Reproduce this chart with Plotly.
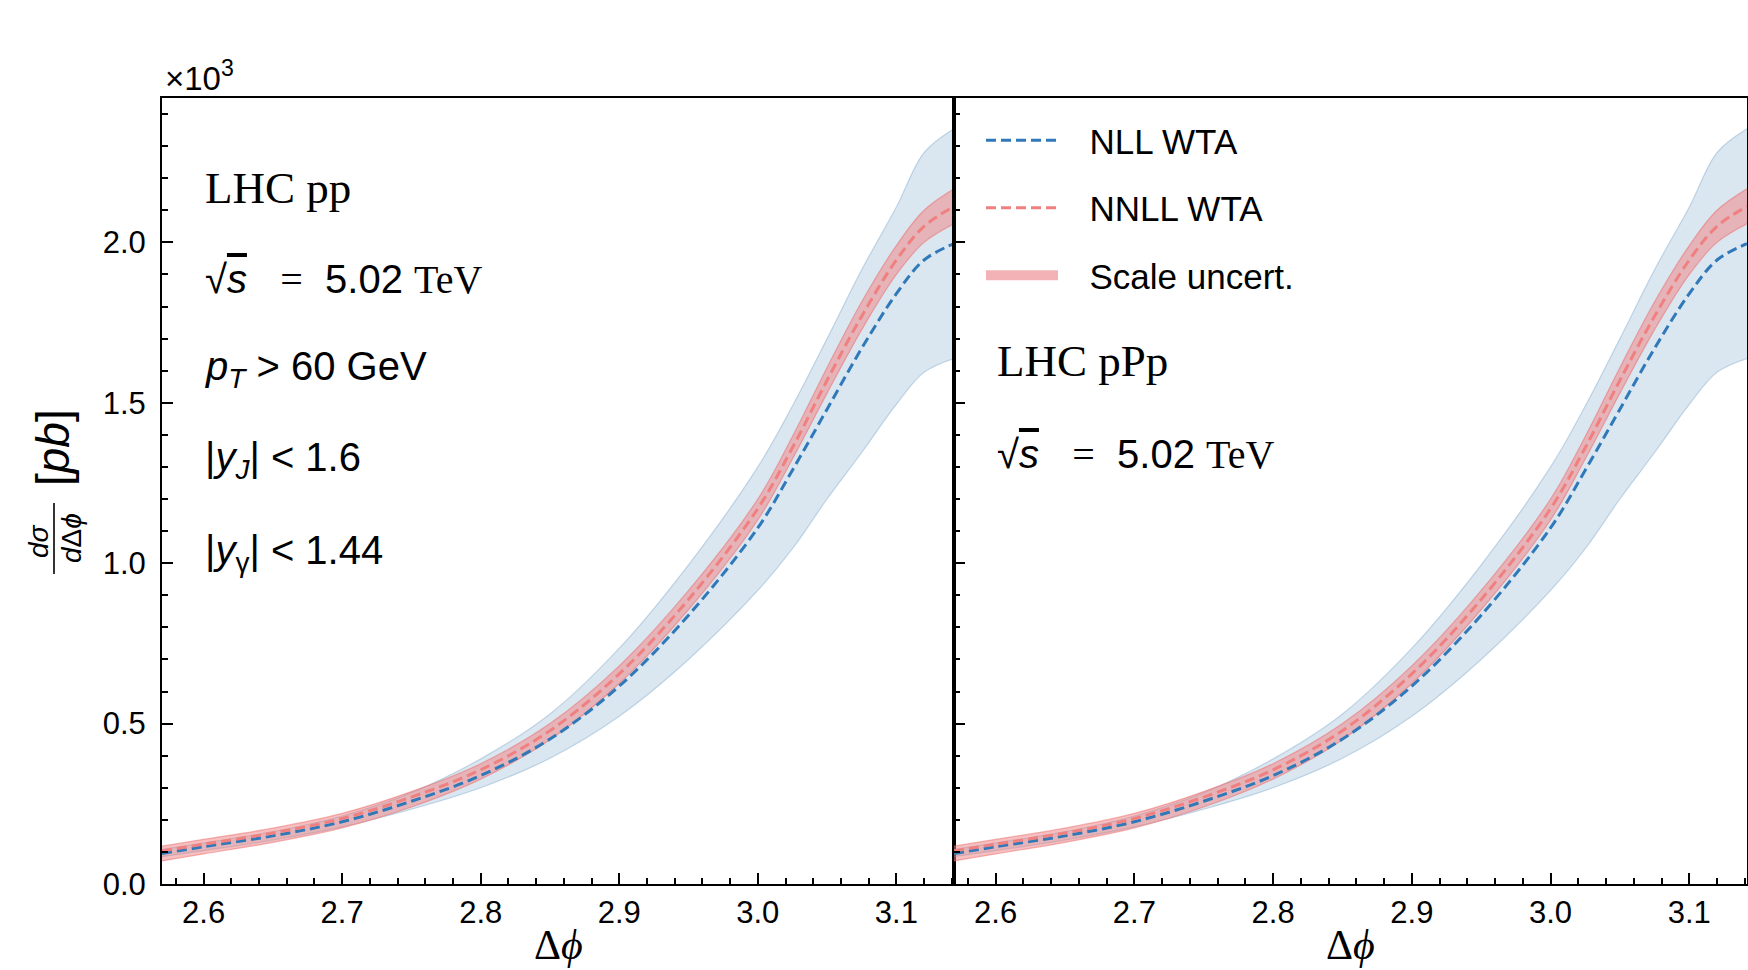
import math
import plotly.graph_objects as go

W, H = 1748, 970

# ---------------- data (units of 10^3 pb) ----------------
DPHI = [2.57, 2.60, 2.65, 2.70, 2.75, 2.80, 2.85, 2.90, 2.95, 3.00,
        3.025, 3.05, 3.075, 3.10, 3.12, 3.1416]

# LHC pp panel
PP_NLL = [0.095, 0.116, 0.150, 0.194, 0.258, 0.338, 0.452, 0.617, 0.838, 1.110,
          1.290, 1.480, 1.670, 1.840, 1.945, 1.996]
PP_NLL_LO = [0.085, 0.104, 0.137, 0.178, 0.233, 0.300, 0.392, 0.523, 0.700, 0.915,
             1.045, 1.200, 1.345, 1.495, 1.595, 1.638]
PP_NLL_HI = [0.108, 0.128, 0.163, 0.212, 0.285, 0.390, 0.530, 0.735, 0.995, 1.300,
             1.490, 1.700, 1.915, 2.110, 2.280, 2.354]
PP_NNLL = [0.103, 0.124, 0.159, 0.204, 0.271, 0.356, 0.478, 0.655, 0.887, 1.170,
           1.360, 1.570, 1.770, 1.945, 2.050, 2.112]
PP_NNLL_LO = [0.072, 0.094, 0.130, 0.175, 0.240, 0.327, 0.450, 0.625, 0.855, 1.135,
              1.325, 1.530, 1.728, 1.900, 2.000, 2.058]
PP_NNLL_HI = [0.118, 0.139, 0.174, 0.220, 0.288, 0.375, 0.500, 0.680, 0.915, 1.200,
              1.395, 1.610, 1.815, 1.990, 2.100, 2.167]

# LHC pPp panel
PPB_NLL = [0.095, 0.116, 0.150, 0.194, 0.258, 0.338, 0.452, 0.617, 0.838, 1.110,
           1.290, 1.480, 1.670, 1.840, 1.945, 1.996]
PPB_NLL_LO = [0.085, 0.104, 0.137, 0.178, 0.233, 0.300, 0.392, 0.523, 0.700, 0.915,
              1.045, 1.200, 1.345, 1.495, 1.595, 1.638]
PPB_NLL_HI = [0.108, 0.128, 0.163, 0.212, 0.285, 0.390, 0.530, 0.735, 0.995, 1.300,
              1.490, 1.700, 1.915, 2.110, 2.280, 2.354]
PPB_NNLL = [0.103, 0.124, 0.159, 0.204, 0.271, 0.356, 0.478, 0.655, 0.887, 1.170,
            1.360, 1.570, 1.770, 1.945, 2.050, 2.112]
PPB_NNLL_LO = [0.072, 0.094, 0.130, 0.175, 0.240, 0.327, 0.450, 0.625, 0.855, 1.135,
               1.325, 1.530, 1.728, 1.900, 2.000, 2.058]
PPB_NNLL_HI = [0.118, 0.139, 0.174, 0.220, 0.288, 0.375, 0.500, 0.680, 0.915, 1.200,
               1.395, 1.610, 1.815, 1.990, 2.100, 2.167]

X_TICKS = [2.6, 2.7, 2.8, 2.9, 3.0, 3.1]
X_TICK_LABELS = ["2.6", "2.7", "2.8", "2.9", "3.0", "3.1"]
Y_TICKS = [0.0, 0.5, 1.0, 1.5, 2.0]
Y_TICK_LABELS = ["0.0", "0.5", "1.0", "1.5", "2.0"]
X_RANGE = [2.57, math.pi]
Y_RANGE = [0.0, 2.45]

SERIES_NAMES = ["NLL WTA", "NNLL WTA", "Scale uncert."]

# ---------------- style ----------------
SANS = "Liberation Sans"
SERIF = "Liberation Serif"
BLUE = "#3079b9"
RED = "#f08080"
BAND_BLUE = "rgba(70,130,180,0.2)"
BAND_BLUE_EDGE = "rgba(70,130,180,0.28)"
BAND_RED = "rgba(240,128,128,0.5)"
BAND_RED_EDGE = "rgba(236,112,112,0.55)"
DASH = "10px,5px"
NB = "\u00a0"
LEG_PAD = NB * 2 + "\u2009"


def fx(p):
    return p / W


def fy(p):
    return 1 - p / H


X0, XM, X1 = 162, 954, 1747
YT, YB = 98, 884

fig = go.Figure()

panels = [
    ("x", "y", PP_NLL, PP_NLL_LO, PP_NLL_HI, PP_NNLL, PP_NNLL_LO, PP_NNLL_HI, False),
    ("x2", "y2", PPB_NLL, PPB_NLL_LO, PPB_NLL_HI, PPB_NNLL, PPB_NNLL_LO, PPB_NNLL_HI, True),
]

for xa, ya, nll, nll_lo, nll_hi, nnll, nnll_lo, nnll_hi, show in panels:
    fig.add_trace(go.Scatter(x=DPHI, y=nll_lo, xaxis=xa, yaxis=ya, mode="lines",
                             line=dict(color=BAND_BLUE_EDGE, width=1.2, shape="spline"),
                             showlegend=False, hoverinfo="skip"))
    fig.add_trace(go.Scatter(x=DPHI, y=nll_hi, xaxis=xa, yaxis=ya, mode="lines",
                             fill="tonexty", fillcolor=BAND_BLUE,
                             line=dict(color=BAND_BLUE_EDGE, width=1.2, shape="spline"),
                             showlegend=False, hoverinfo="skip"))
    fig.add_trace(go.Scatter(x=DPHI, y=nnll_lo, xaxis=xa, yaxis=ya, mode="lines",
                             line=dict(color=BAND_RED_EDGE, width=1.2, shape="spline"),
                             showlegend=False, hoverinfo="skip", legendgroup="g3"))
    fig.add_trace(go.Scatter(x=DPHI, y=nnll_hi, xaxis=xa, yaxis=ya, mode="lines",
                             fill="tonexty", fillcolor=BAND_RED,
                             line=dict(color=BAND_RED_EDGE, width=1.2, shape="spline"),
                             name=SERIES_NAMES[2], showlegend=False, legendgroup="g3"))
    fig.add_trace(go.Scatter(x=DPHI, y=nll, xaxis=xa, yaxis=ya, mode="lines",
                             line=dict(color=BLUE, width=3, dash=DASH, shape="spline"),
                             name=LEG_PAD + SERIES_NAMES[0], showlegend=show, legendrank=1,
                             legendgroup="g1"))
    fig.add_trace(go.Scatter(x=DPHI, y=nnll, xaxis=xa, yaxis=ya, mode="lines",
                             line=dict(color=RED, width=3, dash=DASH, shape="spline"),
                             name=LEG_PAD + SERIES_NAMES[1], showlegend=show, legendrank=2,
                             legendgroup="g2"))

# legend swatch for the scale-uncertainty band (no data points of its own)
fig.add_trace(go.Scatter(x=[None], y=[None], xaxis="x2", yaxis="y2", mode="lines",
                         line=dict(color="rgba(243,178,182,1)", width=26),
                         name=LEG_PAD + SERIES_NAMES[2], showlegend=True, legendrank=3,
                         legendgroup="g3", hoverinfo="skip"))


def xaxis_cfg(domain, anchor):
    return dict(
        domain=domain, anchor=anchor, range=X_RANGE, tickmode="array", tickvals=X_TICKS,
        ticktext=X_TICK_LABELS, ticks="inside", ticklen=11, tickwidth=2,
        tickcolor="black", showline=True, linecolor="black", linewidth=2,
        mirror=True, showgrid=False, zeroline=False, automargin=False,
        minor=dict(tickmode="linear", tick0=2.5, dtick=0.02, ticks="inside",
                   ticklen=6, tickwidth=1.5, tickcolor="black", showgrid=False),
        tickfont=dict(family=SANS, size=31, color="black"),
        ticklabelstandoff=0,
    )


def yaxis_cfg(anchor, labels):
    return dict(
        domain=[fy(YB), fy(YT)], anchor=anchor, range=Y_RANGE, tickmode="array",
        tickvals=Y_TICKS, ticktext=Y_TICK_LABELS, showticklabels=labels,
        ticks="inside", ticklen=11, tickwidth=2, tickcolor="black",
        showline=True, linecolor="black", linewidth=2, mirror=True,
        showgrid=False, zeroline=False, automargin=False,
        minor=dict(tickmode="linear", tick0=0, dtick=0.1, ticks="inside",
                   ticklen=6, tickwidth=1.5, tickcolor="black", showgrid=False),
        tickfont=dict(family=SANS, size=31, color="black"),
        ticklabelstandoff=8,
    )


serif_span = '<span style="font-family:%s">' % SERIF
sqrt_s = ('√<span style="text-decoration:overline"><i>s</i></span>' + NB * 3
          + serif_span + "=</span>" + NB * 2 + "5.02" + NB + serif_span + "TeV</span>")

annotations = [
    dict(text="×10<sup>3</sup>", x=fx(163), y=fy(76), xanchor="left", yanchor="middle",
         font=dict(family=SANS, size=33)),
    # left panel labels
    dict(text="LHC pp", x=fx(203), y=fy(188), xanchor="left", yanchor="middle",
         font=dict(family=SERIF, size=45)),
    dict(text=sqrt_s, x=fx(203), y=fy(279), xanchor="left", yanchor="middle",
         font=dict(family=SANS, size=40)),
    dict(text="<i>p</i><sub><i>T</i></sub>" + NB + ">" + NB + "60 GeV", x=fx(203),
         y=fy(369), xanchor="left", yanchor="middle", font=dict(family=SANS, size=40)),
    dict(text="|<i>y</i><sub><i>J</i></sub>|" + NB + "<" + NB + "1.6", x=fx(203),
         y=fy(460), xanchor="left", yanchor="middle", font=dict(family=SANS, size=40)),
    dict(text="|<i>y</i><sub>γ</sub>|" + NB + "<" + NB + "1.44", x=fx(203), y=fy(553),
         xanchor="left", yanchor="middle", font=dict(family=SANS, size=40)),
    # right panel labels
    dict(text="LHC pPp", x=fx(995), y=fy(361), xanchor="left", yanchor="middle",
         font=dict(family=SERIF, size=45)),
    dict(text=sqrt_s, x=fx(995), y=fy(454), xanchor="left", yanchor="middle",
         font=dict(family=SANS, size=40)),
    # x-axis titles
    dict(text="Δ<i>ϕ</i>", x=fx((X0 + XM) / 2), y=0, xanchor="center",
         yanchor="bottom", font=dict(family=SERIF, size=42)),
    dict(text="Δ<i>ϕ</i>", x=fx((XM + X1) / 2), y=0, xanchor="center",
         yanchor="bottom", font=dict(family=SERIF, size=42)),
    # y-axis title as a fraction
    dict(text="[<i>pb</i>]", x=fx(53), y=fy(448), xanchor="center", yanchor="middle",
         textangle=-90, font=dict(family=SANS, size=46)),
    dict(text="<i>dσ</i>", x=fx(38), y=fy(541), xanchor="center", yanchor="middle",
         textangle=-90, font=dict(family=SANS, size=28)),
    dict(text="<i>d</i>Δ<i>ϕ</i>", x=fx(71), y=fy(538), xanchor="center",
         yanchor="middle", textangle=-90, font=dict(family=SANS, size=28)),
]
for a in annotations:
    a.update(xref="paper", yref="paper", showarrow=False)
    a["font"]["color"] = "black"

shapes = [
    dict(type="line", xref="paper", yref="paper", x0=fx(54), x1=fx(54),
         y0=fy(503), y1=fy(574), line=dict(color="black", width=1.6)),
]

fig.update_layout(
    width=W, height=H, autosize=False,
    margin=dict(l=0, r=0, t=0, b=0, autoexpand=False),
    paper_bgcolor="white", plot_bgcolor="white",
    xaxis=xaxis_cfg([fx(X0), fx(XM)], "y"),
    xaxis2=xaxis_cfg([fx(XM), fx(X1)], "y2"),
    yaxis=yaxis_cfg("x", True), yaxis2=yaxis_cfg("x2", False),
    annotations=annotations, shapes=shapes,
    legend=dict(x=fx(981), y=fy(111), xanchor="left", yanchor="top",
                bgcolor="rgba(0,0,0,0)", borderwidth=0,
                font=dict(family=SANS, size=35, color="black"),
                itemwidth=72, tracegroupgap=19, traceorder="grouped"),
    font=dict(family=SANS, color="black"),
)

fig.write_html("out.html", config=dict(displayModeBar=False),
               post_script="document.body.style.margin='0';document.body.style.overflow='hidden';")
